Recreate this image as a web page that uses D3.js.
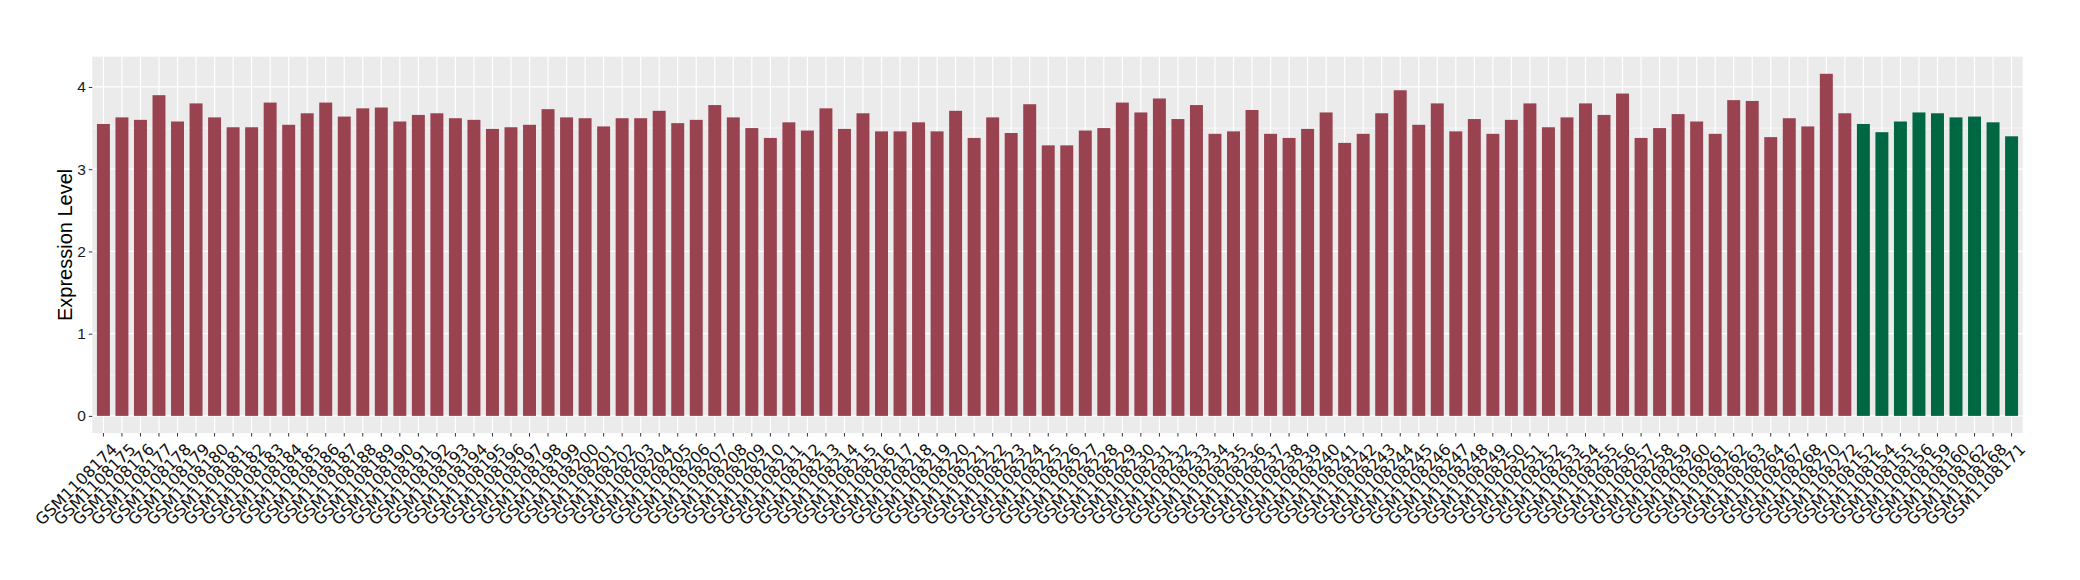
<!DOCTYPE html>
<html>
<head>
<meta charset="utf-8">
<script src="https://cdn.jsdelivr.net/npm/d3@7"></script>
<style>
  html, body { margin: 0; padding: 0; background: #ffffff; }
  svg { display: block; }
</style>
</head>
<body>
<svg id="chart" width="2080" height="580"></svg>
<script>
// ---- data ----
const redSamples = [
  "GSM1108174","GSM1108175","GSM1108176","GSM1108177","GSM1108178","GSM1108179","GSM1108180","GSM1108181",
  "GSM1108182","GSM1108183","GSM1108184","GSM1108185","GSM1108186","GSM1108187","GSM1108188","GSM1108189",
  "GSM1108190","GSM1108191","GSM1108192","GSM1108193","GSM1108194","GSM1108195","GSM1108196","GSM1108197",
  "GSM1108198","GSM1108199","GSM1108200","GSM1108201","GSM1108202","GSM1108203","GSM1108204","GSM1108205",
  "GSM1108206","GSM1108207","GSM1108208","GSM1108209","GSM1108210","GSM1108211","GSM1108212","GSM1108213",
  "GSM1108214","GSM1108215","GSM1108216","GSM1108217","GSM1108218","GSM1108219","GSM1108220","GSM1108221",
  "GSM1108222","GSM1108223","GSM1108224","GSM1108225","GSM1108226","GSM1108227","GSM1108228","GSM1108229",
  "GSM1108230","GSM1108231","GSM1108232","GSM1108233","GSM1108234","GSM1108235","GSM1108236","GSM1108237",
  "GSM1108238","GSM1108239","GSM1108240","GSM1108241","GSM1108242","GSM1108243","GSM1108244","GSM1108245",
  "GSM1108246","GSM1108247","GSM1108248","GSM1108249","GSM1108250","GSM1108251","GSM1108252","GSM1108253",
  "GSM1108254","GSM1108255","GSM1108256","GSM1108257","GSM1108258","GSM1108259","GSM1108260","GSM1108261",
  "GSM1108262","GSM1108263","GSM1108264","GSM1108267","GSM1108268","GSM1108270","GSM1108272"
];
const redValues = [
  3.55,3.63,3.60,3.90,3.58,3.80,3.63,3.51,
  3.51,3.81,3.54,3.68,3.81,3.64,3.74,3.75,
  3.58,3.66,3.68,3.62,3.60,3.49,3.51,3.54,
  3.73,3.63,3.62,3.52,3.62,3.62,3.71,3.56,
  3.60,3.78,3.63,3.50,3.38,3.57,3.47,3.74,
  3.49,3.68,3.46,3.46,3.57,3.46,3.71,3.38,
  3.63,3.44,3.79,3.29,3.29,3.47,3.50,3.81,
  3.69,3.86,3.61,3.78,3.43,3.46,3.72,3.43,
  3.38,3.49,3.69,3.32,3.43,3.68,3.96,3.54,
  3.80,3.46,3.61,3.43,3.60,3.80,3.51,3.63,
  3.80,3.66,3.92,3.38,3.50,3.67,3.58,3.43,
  3.84,3.83,3.39,3.62,3.52,4.16,3.68
];
const greenSamples = [
  "GSM1108152","GSM1108154","GSM1108155","GSM1108156","GSM1108159","GSM1108160","GSM1108162","GSM1108168","GSM1108171"
];
const greenValues = [3.55,3.45,3.58,3.69,3.68,3.63,3.64,3.57,3.40];
const yTicks = [0, 1, 2, 3, 4];
const yMinorTicks = [0.5, 1.5, 2.5, 3.5];
const yTitle = "Expression Level";
const groupColors = { red: "#9A4350", green: "#006743" };

// ---- build table ----
const rows = redSamples.map((s, i) => ({ sample: s, value: redValues[i], group: "red" }))
  .concat(greenSamples.map((s, i) => ({ sample: s, value: greenValues[i], group: "green" })));

// ---- layout ----
const panel = { left: 92.3, right: 2022.7, top: 56.7, bottom: 433 };
const svg = d3.select("#chart");

const x = d3.scaleBand()
  .domain(rows.map(d => d.sample))
  .range([panel.left, panel.right])
  .paddingInner(0.3)
  .paddingOuter(0.25);

const maxV = d3.max(rows, d => d.value);
const y = d3.scaleLinear()
  .domain([-0.05 * maxV, 1.05 * maxV])
  .range([panel.bottom, panel.top]);

// panel background
svg.append("rect")
  .attr("x", panel.left).attr("y", panel.top)
  .attr("width", panel.right - panel.left)
  .attr("height", panel.bottom - panel.top)
  .attr("fill", "#EBEBEB");

// minor horizontal grid
svg.append("g").selectAll("line").data(yMinorTicks).join("line")
  .attr("x1", panel.left).attr("x2", panel.right)
  .attr("y1", d => y(d)).attr("y2", d => y(d))
  .attr("stroke", "#ffffff").attr("stroke-width", 0.6);

// major horizontal grid
svg.append("g").selectAll("line").data(yTicks).join("line")
  .attr("x1", panel.left).attr("x2", panel.right)
  .attr("y1", d => y(d)).attr("y2", d => y(d))
  .attr("stroke", "#ffffff").attr("stroke-width", 1.2);

// vertical grid
svg.append("g").selectAll("line").data(rows).join("line")
  .attr("x1", d => x(d.sample) + x.bandwidth() / 2)
  .attr("x2", d => x(d.sample) + x.bandwidth() / 2)
  .attr("y1", panel.top).attr("y2", panel.bottom)
  .attr("stroke", "#ffffff").attr("stroke-width", 1.2);

// bars
svg.append("g").selectAll("rect").data(rows).join("rect")
  .attr("x", d => x(d.sample))
  .attr("width", x.bandwidth())
  .attr("y", d => y(d.value))
  .attr("height", d => y(0) - y(d.value))
  .attr("fill", d => groupColors[d.group]);

// y axis
const yAxis = d3.axisLeft(y).tickValues(yTicks).tickSize(3.5).tickPadding(3).tickFormat(d3.format("d"));
const gy = svg.append("g").attr("transform", `translate(${panel.left},0)`).call(yAxis);
gy.select(".domain").remove();
gy.selectAll(".tick line").attr("stroke", "#333333").attr("stroke-width", 1);
gy.selectAll(".tick text")
  .attr("fill", "#1a1a1a")
  .style("font-family", "'Liberation Sans', Arial, sans-serif")
  .style("font-size", "15.5px");

// x axis
const xAxis = d3.axisBottom(x).tickSize(3.5).tickPadding(0);
const gx = svg.append("g").attr("transform", `translate(0,${panel.bottom})`).call(xAxis);
gx.select(".domain").remove();
gx.selectAll(".tick line").attr("stroke", "#333333").attr("stroke-width", 1);
gx.selectAll(".tick text")
  .attr("fill", "#111111")
  .style("font-family", "'DejaVu Sans', sans-serif")
  .style("font-size", "16px")
  .attr("text-anchor", "end")
  .attr("y", 0)
  .attr("dy", "0.73em")
  .attr("transform", "translate(6.5,9) rotate(-45)");

// y title
svg.append("text")
  .attr("transform", `translate(72,${(panel.top + panel.bottom) / 2}) rotate(-90)`)
  .attr("text-anchor", "middle")
  .attr("fill", "#000000")
  .style("font-family", "'Liberation Sans', Arial, sans-serif")
  .style("font-size", "20px")
  .text(yTitle);
</script>
</body>
</html>
